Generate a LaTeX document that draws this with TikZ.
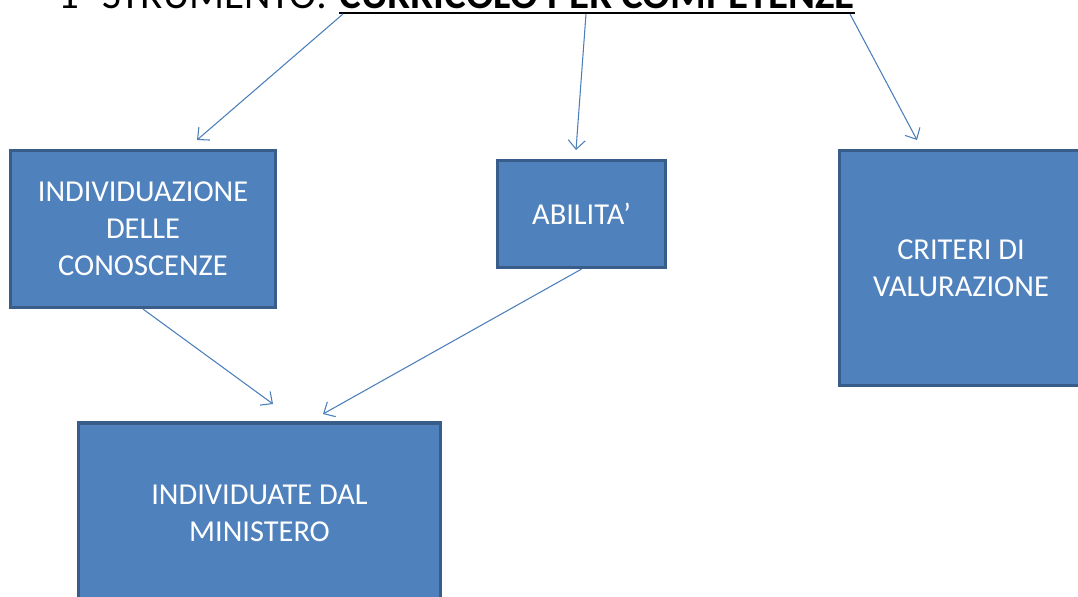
\documentclass[tikz,border=0pt]{standalone}
\usepackage{fontspec}
\setmainfont{Carlito}
\usepackage{tikz}
\usetikzlibrary{arrows.meta}
\definecolor{boxblue}{RGB}{79,129,189}
\definecolor{boxedge}{RGB}{56,93,138}
\definecolor{lineblue}{RGB}{74,126,187}
\tikzset{
	box/.style={draw=boxedge, line width=1.8pt, fill=boxblue, text=white, align=center, inner sep=0pt,
		font=\fontsize{17.3}{21}\selectfont},
	link/.style={draw=lineblue, line width=0.6pt, -{Straight Barb[length=1.8mm,width=3.4mm]}},
	titlefont/.style={inner sep=0pt, font=\fontsize{23.3}{28}\selectfont}
}

\begin{document}
\begin{tikzpicture}[x=0.2mm,y=-0.2mm]
					\useasboundingbox (0,0) rectangle (1078,597);
					\clip (0,0) rectangle (1078,597);

					\coordinate (T) at (339,9);
					\coordinate (s1) at (343,14);
					\coordinate (s2) at (586,14);
					\coordinate (s3) at (850,14);
					\coordinate (e1) at (197,140);
					\coordinate (e2) at (576,150);
					\coordinate (e3) at (917,140);
					\coordinate (e4) at (273,404);
					\coordinate (e5) at (323,414);

					\node (curr) at (T) [titlefont, anchor=base west, font=\fontsize{23.3}{28}\selectfont\bfseries] {CURRICOLO PER COMPETENZE};
					\node (pre) at (curr.base west) [titlefont, anchor=base east, xshift=-2.2mm] {1° STRUMENTO:};
					\draw[line width=1.7pt] ([yshift=-0.8mm]curr.base west) -- ([yshift=-0.8mm]curr.base east);

					\node (K) at (143,229) [box, minimum width=53mm, minimum height=31.4mm] {INDIVIDUAZIONE\\DELLE\\CONOSCENZE};
					\node (A) at (581.5,214) [box, minimum width=33.6mm, minimum height=21.4mm] {ABILITA’};
					\node (V) at (961,268) [box, minimum width=48.6mm, minimum height=47mm] {CRITERI DI\\VALURAZIONE};
					\node (M) at (259.5,513) [box, minimum width=72.4mm, minimum height=36mm] {INDIVIDUATE DAL\\MINISTERO};

					\draw[link] (s1) -- (e1);
					\draw[link] (s2) -- (e2);
					\draw[link] (s3) -- (e3);
					\draw[link] (K.south) -- (e4);
					\draw[link] (A.south) -- (e5);
				\end{tikzpicture}
\end{document}
